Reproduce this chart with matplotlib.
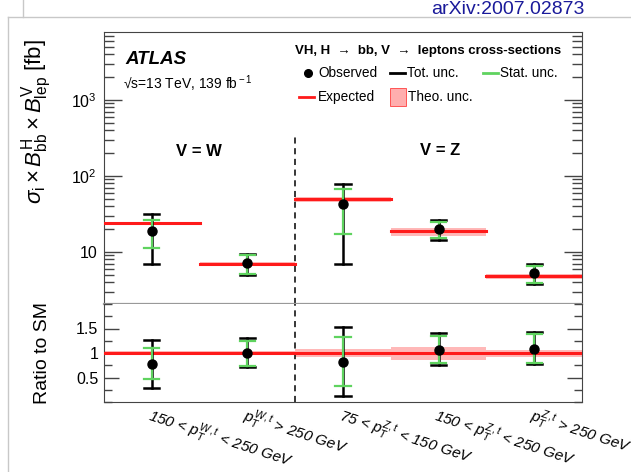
import numpy as np
import matplotlib
matplotlib.use('Agg')
import matplotlib.pyplot as plt
from matplotlib.lines import Line2D
from matplotlib.patches import Rectangle
from matplotlib.ticker import LogLocator, FixedLocator, FixedFormatter, NullFormatter, MultipleLocator

plt.rcParams['font.family'] = ['Liberation Sans', 'DejaVu Sans']
plt.rcParams['mathtext.fontset'] = 'custom'
plt.rcParams['mathtext.rm'] = 'Liberation Sans'
plt.rcParams['mathtext.it'] = 'Liberation Sans:italic'
plt.rcParams['mathtext.bf'] = 'Liberation Sans:bold'

# STXS bins: W 150-250, W >250, Z 75-150, Z 150-250, Z >250
bin_labels = [r'150 < $p_T^{W,t}$ < 250 GeV',
              r'$p_T^{W,t}$ > 250 GeV',
              r'75 < $p_T^{Z,t}$ < 150 GeV',
              r'150 < $p_T^{Z,t}$ < 250 GeV',
              r'$p_T^{Z,t}$ > 250 GeV']

# cross-sections [fb]
observed = [18.9, 7.1, 42.5, 20.1, 5.35]
tot_up = [31.3, 9.4, 78.5, 26.4, 6.95]
tot_dn = [7.0, 5.0, 6.95, 14.4, 3.8]
stat_up = [26.6, 9.2, 67.5, 24.8, 6.6]
stat_dn = [11.3, 5.1, 17.1, 15.1, 3.95]
expected = [23.9, 7.0, 49.8, 18.7, 4.83]

# ratio to SM
r_obs = [0.78, 1.01, 0.82, 1.06, 1.08]
r_tot_up = [1.27, 1.31, 1.54, 1.40, 1.42]
r_tot_dn = [0.29, 0.71, 0.12, 0.75, 0.78]
r_stat_up = [1.10, 1.25, 1.32, 1.35, 1.39]
r_stat_dn = [0.46, 0.73, 0.33, 0.80, 0.80]
theo_up = [0.04, 0.04, 0.075, 0.115, 0.07]
theo_dn = [0.04, 0.04, 0.075, 0.14, 0.09]

W, H = 631, 472
fig = plt.figure(figsize=(W / 100, H / 100), dpi=100)

def fbox(l, t, r, b):
    return [l / W, 1 - b / H, (r - l) / W, (b - t) / H]

ax = fig.add_axes(fbox(104, 32, 582, 304))
axr = fig.add_axes(fbox(104, 304, 582, 402))

green = '#5fd35f'
red = '#ff1a1a'
pink = '#ff9a9a'
x = np.arange(len(observed))

def draw_errors(a, y, up, dn, sup, sdn):
    for i in range(len(y)):
        a.plot([x[i], x[i]], [dn[i], up[i]], color='k', lw=1.8, zorder=4)
        for v in (dn[i], up[i]):
            a.plot([x[i] - 0.08, x[i] + 0.08], [v, v], color='k', lw=1.8, zorder=4)
        a.plot([x[i], x[i]], [sdn[i], sup[i]], color=green, lw=1.6, zorder=5)
        for v in (sdn[i], sup[i]):
            a.plot([x[i] - 0.08, x[i] + 0.08], [v, v], color=green, lw=1.6, zorder=5)
    a.plot(x, y, 'o', color='k', ms=6.5, zorder=6)

# main panel: expected line with theory band per bin
for i in range(len(expected)):
    ax.fill_between([x[i] - 0.5, x[i] + 0.5], expected[i] * (1 - theo_dn[i]),
                    expected[i] * (1 + theo_up[i]), color=pink, alpha=0.7, lw=0, zorder=2)
    ax.plot([x[i] - 0.5, x[i] + 0.5], [expected[i], expected[i]], color=red, lw=2.2, zorder=3)
draw_errors(ax, observed, tot_up, tot_dn, stat_up, stat_dn)

ax.set_yscale('log')
ax.set_xlim(-0.5, 4.5)
ax.set_ylim(2.07, 7850)
ax.yaxis.set_major_locator(FixedLocator([10, 100, 1000]))
ax.yaxis.set_major_formatter(FixedFormatter(['10', r'$10^2$', r'$10^3$']))
ax.yaxis.set_minor_locator(LogLocator(base=10, subs=np.arange(2, 10), numticks=20))
ax.yaxis.set_minor_formatter(NullFormatter())
ax.tick_params(axis='y', which='major', direction='in', length=13, width=1, colors='#444',
               labelcolor='k', labelsize=11.5, right=True, pad=5)
ax.tick_params(axis='y', which='minor', direction='in', length=7, width=1, colors='#444', right=True)
ax.set_xticks([])
for s in ('left', 'right', 'top'):
    ax.spines[s].set_color('#444')
ax.spines['bottom'].set_color('#999')
ax.spines['bottom'].set_linewidth(1.6)
ax.axvline(1.5, ymin=0, ymax=0.63, color='k', ls=(0, (4, 3)), lw=1.1)
ax.set_ylabel(r'$\sigma_{\rm i}\times B^{\rm H}_{\rm bb}\times B^{\rm V}_{\rm lep}$ [fb]',
              fontsize=16)
ax.yaxis.set_label_coords(-0.105, 0.67)

ax.text(0.045, 0.9, 'ATLAS', transform=ax.transAxes, fontsize=13.5, fontweight='bold',
        fontstyle='italic', va='center')
ax.text(0.04, 0.81, '√s=13 TeV, 139 fb$^{\\rm -1}$', transform=ax.transAxes,
        fontsize=10, va='center')
fig.text(199 / W, 1 - 152 / H, 'V = W', fontsize=12, fontweight='bold', ha='center', va='center')
fig.text(440 / W, 1 - 151 / H, 'V = Z', fontsize=12, fontweight='bold', ha='center', va='center')

# legend drawn by hand
fig.text(295 / W, 1 - 51 / H, 'VH, H  →  bb, V  →  leptons cross-sections',
         fontsize=9.5, fontweight='bold', va='center')
fig.add_artist(Line2D([308 / W], [1 - 73 / H], marker='o', color='k', ms=5.5))
fig.text(318 / W, 1 - 73 / H, 'Observed', fontsize=9.8, va='center')
fig.add_artist(Line2D([390 / W, 405 / W], [1 - 73 / H] * 2, color='k', lw=2))
fig.text(407 / W, 1 - 73 / H, 'Tot. unc.', fontsize=9.8, va='center')
fig.add_artist(Line2D([483 / W, 498 / W], [1 - 73 / H] * 2, color=green, lw=2))
fig.text(500 / W, 1 - 73 / H, 'Stat. unc.', fontsize=9.8, va='center')
fig.add_artist(Line2D([299 / W, 314 / W], [1 - 97 / H] * 2, color=red, lw=2))
fig.text(318 / W, 1 - 97 / H, 'Expected', fontsize=9.8, va='center')
fig.add_artist(Rectangle((390 / W, 1 - 106 / H), 16 / W, 18 / H, facecolor=pink,
                         edgecolor=red, lw=0.6, alpha=0.8))
fig.text(408 / W, 1 - 97 / H, 'Theo. unc.', fontsize=9.8, va='center')

# ratio panel
for i in range(len(r_obs)):
    axr.fill_between([x[i] - 0.5, x[i] + 0.5], 1 - theo_dn[i], 1 + theo_up[i],
                     color=pink, alpha=0.7, lw=0, zorder=2)
axr.axhline(1, color=red, lw=2.2, zorder=3)
draw_errors(axr, r_obs, r_tot_up, r_tot_dn, r_stat_up, r_stat_dn)
axr.set_xlim(-0.5, 4.5)
axr.set_ylim(0, 2)
axr.yaxis.set_major_locator(FixedLocator([0.5, 1, 1.5]))
axr.yaxis.set_major_formatter(FixedFormatter(['0.5', '1', '1.5']))
axr.yaxis.set_minor_locator(MultipleLocator(0.25))
axr.tick_params(axis='y', which='major', direction='in', length=11, width=1, colors='#444',
                labelcolor='k', labelsize=11.5, right=True, pad=4)
axr.tick_params(axis='y', which='minor', direction='in', length=6, width=1, colors='#444', right=True)
axr.set_xticks(x)
axr.set_xticklabels(bin_labels, rotation=-18, rotation_mode='anchor', ha='left', va='top',
                    fontsize=11, fontstyle='italic')
axr.tick_params(axis='x', length=0, pad=2)
axr.spines['top'].set_visible(False)
for s in ('left', 'right', 'bottom'):
    axr.spines[s].set_color('#444')
axr.axvline(1.5, color='k', ls=(0, (4, 3)), lw=1.1)
axr.set_ylabel('Ratio to SM', fontsize=14)
axr.yaxis.set_label_coords(-0.11, 0.5)

# page frame and header
fig.add_artist(Line2D([8 / W, 1], [1 - 17 / H] * 2, color='#c8c8c8', lw=1))
fig.add_artist(Line2D([8 / W, 8 / W], [0, 1 - 17 / H], color='#c8c8c8', lw=1))
fig.add_artist(Line2D([23 / W, 23 / W], [1 - 17 / H, 1], color='#c8c8c8', lw=1))
fig.text(585 / W, 1 - 9 / H, 'arXiv:2007.02873', fontsize=14, color='#1a1a9a',
         ha='right', va='center')

fig.savefig('out.png', dpi=100)
